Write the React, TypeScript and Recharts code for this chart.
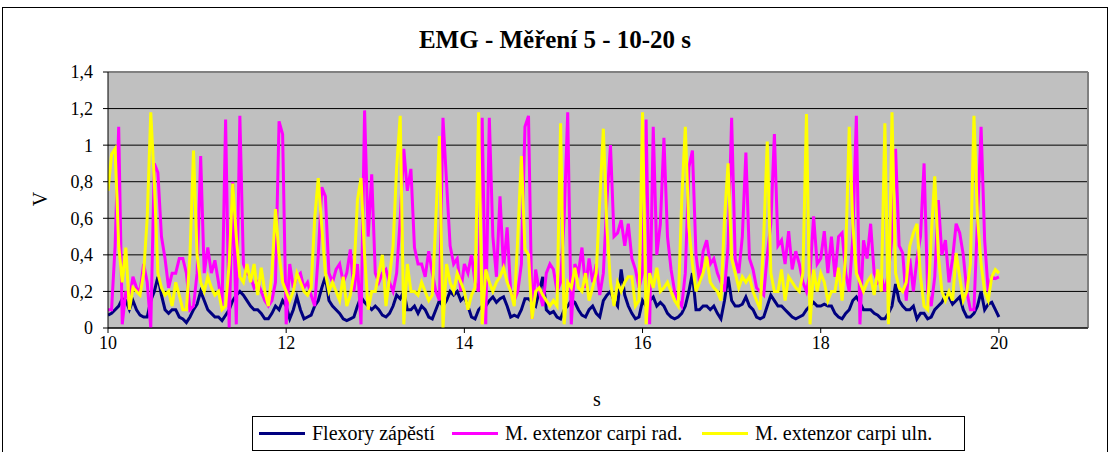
import { LineChart, Line, XAxis, YAxis, CartesianGrid, ReferenceLine } from "recharts";

// samples every 0.04 s from 10 s to 20 s, values in V
const flexory = [
  0.07, 0.08, 0.1, 0.12, 0.16, 0.15, 0.1, 0.15, 0.1, 0.07, 0.06, 0.06, 0.15, 0.2, 0.28, 0.18, 0.1, 0.08, 0.1, 0.1, 0.06, 0.05, 0.03, 0.06, 0.1,
  0.13, 0.2, 0.15, 0.1, 0.08, 0.06, 0.06, 0.04, 0.07, 0.1, 0.15, 0.18, 0.2, 0.18, 0.15, 0.12, 0.1, 0.1, 0.08, 0.05, 0.05, 0.08, 0.12, 0.1, 0.15,
  0.12, 0.05, 0.1, 0.17, 0.1, 0.05, 0.06, 0.07, 0.12, 0.15, 0.22, 0.28, 0.15, 0.12, 0.1, 0.08, 0.05, 0.04, 0.05, 0.06, 0.12, 0.17, 0.14, 0.12, 0.1,
  0.12, 0.1, 0.07, 0.06, 0.08, 0.12, 0.18, 0.16, 0.2, 0.1, 0.1, 0.12, 0.08, 0.12, 0.1, 0.06, 0.05, 0.1, 0.15, 0.12, 0.15, 0.2, 0.18, 0.2, 0.15,
  0.17, 0.12, 0.06, 0.05, 0.1, 0.12, 0.12, 0.15, 0.17, 0.14, 0.16, 0.17, 0.12, 0.06, 0.07, 0.06, 0.1, 0.16, 0.16, 0.14, 0.12, 0.2, 0.28, 0.1, 0.08,
  0.09, 0.06, 0.05, 0.1, 0.12, 0.15, 0.14, 0.1, 0.07, 0.06, 0.1, 0.12, 0.08, 0.06, 0.15, 0.18, 0.2, 0.15, 0.12, 0.32, 0.18, 0.12, 0.08, 0.05, 0.06,
  0.15, 0.12, 0.15, 0.17, 0.12, 0.14, 0.12, 0.08, 0.06, 0.05, 0.06, 0.08, 0.12, 0.2, 0.3, 0.1, 0.1, 0.12, 0.12, 0.1, 0.12, 0.08, 0.05, 0.15, 0.28,
  0.15, 0.12, 0.12, 0.13, 0.17, 0.12, 0.1, 0.06, 0.05, 0.06, 0.12, 0.18, 0.15, 0.12, 0.12, 0.1, 0.08, 0.06, 0.05, 0.06, 0.07, 0.1, 0.12, 0.14, 0.12,
  0.12, 0.13, 0.12, 0.12, 0.08, 0.06, 0.05, 0.08, 0.1, 0.15, 0.17, 0.14, 0.1, 0.1, 0.1, 0.08, 0.07, 0.05, 0.05, 0.08, 0.12, 0.24, 0.15, 0.12, 0.1,
  0.1, 0.12, 0.05, 0.08, 0.08, 0.05, 0.06, 0.1, 0.12, 0.14, 0.18, 0.17, 0.13, 0.15, 0.17, 0.1, 0.06, 0.06, 0.08, 0.12, 0.2, 0.1, 0.13, 0.14, 0.1, 0.06,
];

const extRad = [
  0.1, 0.1, 0.45, 1.1, 0.02, 0.2, 0.15, 0.28, 0.22, 0.2, 0.35, 0.25, 0.0, 0.9, 0.85, 0.5, 0.38, 0.22, 0.3, 0.3, 0.38, 0.38, 0.3, 0.1, 0.12,
  0.3, 0.94, 0.3, 0.44, 0.3, 0.37, 0.25, 0.12, 1.14, 0.0, 0.8, 0.02, 1.16, 0.35, 0.3, 0.28, 0.22, 0.25, 0.2, 0.15, 0.12, 0.15, 0.25, 1.13, 1.06,
  0.02, 0.35, 0.22, 0.28, 0.3, 0.22, 0.25, 0.18, 0.12, 0.4, 0.77, 0.72, 0.3, 0.25, 0.32, 0.35, 0.25, 0.3, 0.43, 0.2, 0.35, 0.02, 1.19, 0.5, 0.84,
  0.3, 0.25, 0.3, 0.32, 0.25, 0.2, 0.3, 0.6, 0.98, 0.75, 0.87, 0.44, 0.35, 0.35, 0.28, 0.42, 0.3, 0.2, 0.15, 1.15, 0.8, 0.45, 0.35, 0.38, 0.2,
  0.35, 0.3, 0.4, 0.25, 0.2, 1.15, 0.02, 1.15, 0.5, 0.28, 0.72, 0.32, 0.55, 0.2, 0.15, 0.2, 0.35, 1.1, 1.16, 0.05, 0.32, 0.2, 0.12, 0.3, 0.35,
  0.32, 0.2, 0.25, 0.6, 1.18, 0.02, 0.35, 0.3, 0.44, 0.22, 0.38, 0.25, 0.35, 0.18, 0.3, 0.7, 1.0, 0.5, 0.52, 0.59, 0.45, 0.57, 0.38, 0.32, 0.22,
  0.3, 1.14, 0.02, 1.1, 0.4, 0.57, 1.04, 0.5, 0.32, 0.2, 0.15, 0.12, 0.3, 0.88, 0.97, 0.4, 0.25, 0.42, 0.48, 0.35, 0.38, 0.3, 0.25, 0.2, 0.45,
  1.15, 0.38, 0.3, 0.5, 0.96, 0.38, 0.32, 0.22, 0.2, 0.18, 0.4, 0.57, 1.06, 0.45, 0.48, 0.35, 0.53, 0.32, 0.42, 0.35, 0.25, 0.2, 0.3, 0.61, 0.35,
  0.38, 0.53, 0.3, 0.5, 0.28, 0.5, 0.52, 0.3, 0.2, 0.5, 1.16, 0.02, 0.48, 0.38, 0.57, 0.3, 0.25, 0.28, 0.2, 0.3, 0.5, 0.98, 0.45, 0.41, 0.15,
  0.38, 0.2, 0.38, 0.5, 0.9, 0.2, 0.12, 0.28, 0.7, 0.4, 0.48, 0.25, 0.38, 0.57, 0.52, 0.4, 0.2, 0.1, 0.1, 0.6, 1.1, 0.48, 0.2, 0.28, 0.27, 0.28,
];

const extUln = [
  0.75, 0.95, 0.98, 0.45, 0.25, 0.44, 0.1, 0.22, 0.2, 0.18, 0.3, 0.6, 1.18, 0.8, 0.3, 0.22, 0.18, 0.2, 0.12, 0.25, 0.18, 0.1, 0.1, 0.4, 0.97,
  0.4, 0.25, 0.2, 0.28, 0.22, 0.18, 0.2, 0.1, 0.12, 0.35, 0.79, 0.5, 0.28, 0.25, 0.35, 0.25, 0.35, 0.18, 0.33, 0.2, 0.12, 0.3, 0.65, 0.4, 0.25,
  0.2, 0.15, 0.2, 0.3, 0.25, 0.2, 0.18, 0.22, 0.6, 0.82, 0.55, 0.3, 0.2, 0.25, 0.2, 0.15, 0.28, 0.12, 0.18, 0.3, 0.7, 0.82, 0.4, 0.1, 0.2,
  0.2, 0.3, 0.4, 0.12, 0.28, 0.45, 0.88, 1.16, 0.02, 0.35, 0.2, 0.2, 0.18, 0.25, 0.2, 0.15, 0.18, 0.6, 1.05, 0.0, 0.35, 0.25, 0.2, 0.3, 0.25,
  0.2, 0.1, 0.18, 0.22, 1.18, 0.02, 0.32, 0.25, 0.2, 0.25, 0.28, 0.33, 0.25, 0.2, 0.12, 0.5, 0.94, 0.43, 0.4, 0.05, 0.2, 0.22, 0.18, 0.15, 0.12,
  0.15, 0.12, 1.12, 0.02, 0.25, 0.22, 0.33, 0.22, 0.2, 0.3, 0.15, 0.22, 0.3, 0.7, 1.09, 0.55, 0.25, 0.12, 0.25, 0.2, 0.25, 0.28, 0.28, 0.12, 0.15,
  1.18, 0.02, 0.3, 0.22, 0.33, 0.2, 0.22, 0.25, 0.2, 0.15, 0.12, 0.7, 1.1, 0.55, 0.35, 0.2, 0.25, 0.3, 0.39, 0.25, 0.22, 0.2, 0.15, 0.6, 0.9,
  0.38, 0.3, 0.22, 0.28, 0.25, 0.28, 0.2, 0.15, 0.1, 0.5, 1.02, 0.3, 0.2, 0.2, 0.32, 0.15, 0.28, 0.25, 0.22, 0.2, 0.3, 1.17, 0.02, 0.32, 0.2,
  0.3, 0.25, 0.15, 0.2, 0.2, 0.33, 0.15, 0.4, 1.1, 0.57, 0.3, 0.25, 0.2, 0.25, 0.28, 0.18, 0.32, 0.2, 1.12, 0.02, 1.18, 0.3, 0.22, 0.2, 0.25,
  0.45, 0.52, 0.57, 0.28, 0.12, 0.1, 0.5, 0.83, 0.4, 0.2, 0.15, 0.2, 0.15, 0.41, 0.28, 0.15, 0.2, 0.35, 1.16, 0.6, 0.35, 0.2, 0.15, 0.28, 0.32, 0.3,
];

const START_S = 10;
const STEP_S = 0.04;
const xTicks = [10, 12, 14, 16, 18, 20];
const yTicks = [0, 0.2, 0.4, 0.6, 0.8, 1, 1.2, 1.4];

const seriesNames = ["Flexory zápěstí", "M. extenzor carpi rad.", "M. extenzor carpi uln."];
const seriesColors = ["#000080", "#FF00FF", "#FFFF00"];
// legend swatch x positions in the reference box
const legendSwatchX = [6, 199, 449];

const data = flexory.map((v, i) => ({
  t: +(START_S + i * STEP_S).toFixed(2),
  flexory: v,
  rad: extRad[i],
  uln: extUln[i],
}));

const FONT = "'Liberation Serif', 'Times New Roman', serif";

const fmtY = (v: number) => String(+v.toFixed(1)).replace(".", ",");

export default function App() {
  return (
    <div
      style={{
        position: "absolute",
        left: 0,
        top: 0,
        width: 1110,
        height: 452,
        background: "#fff",
        fontFamily: FONT,
        color: "#000",
        overflow: "hidden",
      }}
    >
      <div
        style={{
          position: "absolute",
          left: 2,
          top: 7,
          width: 1104,
          height: 450,
          border: "1px solid #000",
        }}
      />
      <div
        style={{
          position: "absolute",
          left: 0,
          top: 25,
          width: 1110,
          textAlign: "center",
          fontWeight: "bold",
          fontSize: 25,
          lineHeight: "30px",
        }}
      >
        EMG - Měření 5 - 10-20 s
      </div>
      <div
        style={{
          position: "absolute",
          left: 40,
          top: 199,
          fontSize: 20,
          lineHeight: "20px",
          transform: "translate(-50%, -50%) rotate(-90deg)",
        }}
      >
        V
      </div>
      <div
        style={{
          position: "absolute",
          left: 597,
          top: 399,
          fontSize: 20,
          lineHeight: "20px",
          transform: "translate(-50%, -50%)",
        }}
      >
        s
      </div>

      <div style={{ position: "absolute", left: 0, top: 0 }}>
        <LineChart
          width={1110}
          height={452}
          data={data}
          margin={{ top: 72, right: 22, bottom: 94, left: 48 }}
        >
          <CartesianGrid
            vertical={false}
            stroke="#000"
            strokeWidth={1}
            fill="#C0C0C0"
            fillOpacity={1}
          />
          <XAxis
            dataKey="t"
            type="number"
            domain={[10, 21]}
            ticks={xTicks}
            height={30}
            tickSize={5}
            tickMargin={3}
            axisLine={{ stroke: "#000" }}
            tickLine={{ stroke: "#000" }}
            tick={{ fill: "#000", fontSize: 18, fontFamily: FONT }}
            allowDataOverflow
          />
          <YAxis
            type="number"
            domain={[0, 1.4]}
            ticks={yTicks}
            width={60}
            tickSize={5}
            tickMargin={10}
            tickFormatter={fmtY}
            axisLine={{ stroke: "#000" }}
            tickLine={{ stroke: "#000" }}
            tick={{ fill: "#000", fontSize: 18, fontFamily: FONT }}
          />
          <ReferenceLine y={1.4} stroke="#808080" strokeWidth={2} />
          <ReferenceLine x={21} stroke="#808080" strokeWidth={2} />
          <Line
            dataKey="flexory"
            name={seriesNames[0]}
            type="linear"
            stroke={seriesColors[0]}
            strokeWidth={3}
            dot={false}
            isAnimationActive={false}
          />
          <Line
            dataKey="rad"
            name={seriesNames[1]}
            type="linear"
            stroke={seriesColors[1]}
            strokeWidth={3}
            dot={false}
            isAnimationActive={false}
          />
          <Line
            dataKey="uln"
            name={seriesNames[2]}
            type="linear"
            stroke={seriesColors[2]}
            strokeWidth={3}
            dot={false}
            isAnimationActive={false}
          />
        </LineChart>
      </div>

      <div
        style={{
          position: "absolute",
          left: 252,
          top: 416,
          width: 711,
          height: 33,
          border: "1px solid #000",
          fontSize: 20,
          lineHeight: "33px",
          whiteSpace: "nowrap",
        }}
      >
        {seriesNames.map((name, i) => (
          <div
            key={name}
            style={{ position: "absolute", left: legendSwatchX[i], top: 0, display: "flex", alignItems: "center", height: 33 }}
          >
            <span
              style={{
                display: "inline-block",
                width: 46,
                height: 3,
                background: seriesColors[i],
                marginRight: 7,
              }}
            />
            <span>{name}</span>
          </div>
        ))}
      </div>
    </div>
  );
}
